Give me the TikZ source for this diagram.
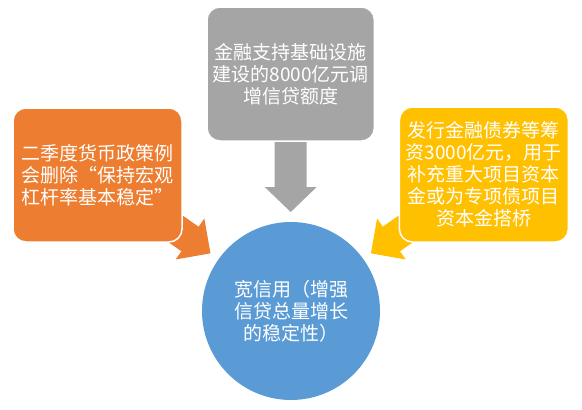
\documentclass[tikz,border=0pt]{standalone}
\usepackage{fontspec}
\setmainfont{Noto Sans CJK SC}
\newfontfamily\fwquote[RawFeature=+fwid]{Noto Sans CJK SC}
\definecolor{cgray}{HTML}{A5A5A5}
\definecolor{corange}{HTML}{ED7D31}
\definecolor{cyellow}{HTML}{FFC000}
\definecolor{cblue}{HTML}{5B9BD5}
\begin{document}
\begin{tikzpicture}[x=1pt,y=-1pt,
  box/.style={draw=white, line width=1.5pt, rounded corners=13pt, text=white,
    align=center, inner sep=0pt, font=\fontsize{19}{22}\selectfont},
  circ/.style={circle, draw=none, text=white, align=center, inner sep=0pt,
    font=\fontsize{19}{22}\selectfont},
]
\useasboundingbox (0,0) rectangle (582,410);
% block arrows (behind boxes)
\fill[cgray] (274.7,130) -- (306.7,130) -- (306.7,187) -- (316.7,187) -- (290.7,212) -- (264.7,187) -- (274.7,187) -- cycle;
\fill[corange] (137.16,183.69) -- (198.60,226.71) -- (204.34,218.52) -- (210.48,253.34)
  -- (175.66,259.48) -- (181.40,251.29) -- (119.96,208.27) -- cycle;
\fill[cyellow] (444.24,183.69) -- (382.80,226.71) -- (377.06,218.52) -- (370.92,253.34)
  -- (405.74,259.48) -- (400.00,251.29) -- (461.44,208.27) -- cycle;
% boxes
\node[box, fill=cgray, minimum width=167.4, minimum height=134] (top) at (290.7,74)
  {金融支持基础设施\\建设的8000亿元调\\增信贷额度};
\node[box, fill=corange, minimum width=169, minimum height=134] (left) at (97.5,175)
  {二季度货币政策例\\会删除{\fwquote “}保持宏观\\杠杆率基本稳定{\fwquote ”}};
\node[box, fill=cyellow, minimum width=169, minimum height=135] (right) at (483.9,174.5)
  {发行金融债券等筹\\资3000亿元，用于\\补充重大项目资本\\金或为专项债项目\\资本金搭桥};
\node[circ, fill=cblue, minimum size=178] (center) at (291,311)
  {宽信用（增强\\信贷总量增长\\的稳定性）};
\end{tikzpicture}
\end{document}
